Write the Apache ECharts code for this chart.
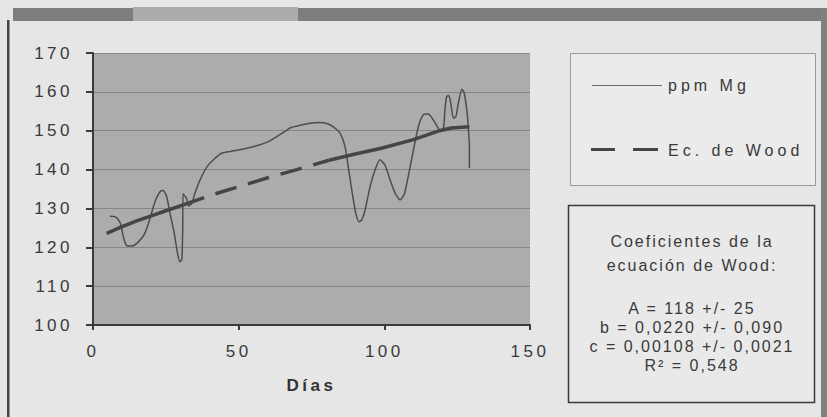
<!DOCTYPE html>
<html>
<head>
<meta charset="utf-8">
<script src="https://cdn.jsdelivr.net/npm/echarts@6/dist/echarts.min.js"></script>
<style>
  html, body { margin: 0; padding: 0; background: #e6e6e6; }
  #chart { width: 827px; height: 417px; }
  /* wide tracking of the printed figure */
  #chart text[style*="spcAxis"] { letter-spacing: 3.5px; }
  #chart text[style*="spcLeg"] { letter-spacing: 4px; }
  #chart text[style*="spcCoef"] { letter-spacing: 2px; }
</style>
</head>
<body>
<div id="chart"></div>
<script>
// Mg concentration (ppm) over lactation days
const ppmDays = [5.8, 7.5, 8.6, 9.6, 10.4, 11.6, 13.3, 15.6, 17.8, 19.6, 21.3, 23.0, 24.1, 25.3, 26.3, 27.9, 29.0, 29.8, 30.5, 30.8, 30.9, 32.1, 32.9, 33.9, 34.9, 36.7, 39.6, 43.6, 46.5, 50.4, 55.6, 60.2, 63.1, 65.9, 67.6, 71.1, 74.5, 77.9, 80.5, 82.5, 84.8, 86.5, 87.6, 89.0, 90.2, 91.3, 92.2, 93.4, 95.1, 96.8, 98.5, 100.2, 102.0, 103.7, 105.4, 106.8, 108.2, 110.0, 111.7, 113.4, 115.1, 116.8, 119.1, 120.3, 120.8, 121.4, 122.2, 122.8, 123.7, 124.6, 125.4, 126.6, 127.4, 128.3, 128.8, 129.2, 129.2];
const ppmVals = [128.0, 127.9, 127.2, 125.7, 122.7, 120.4, 120.3, 121.4, 123.6, 127.5, 131.8, 134.3, 134.6, 133.0, 129.2, 123.6, 118.5, 116.3, 116.9, 125.0, 133.8, 132.6, 130.6, 131.3, 133.7, 137.3, 141.2, 144.0, 144.6, 145.1, 146.0, 147.2, 148.5, 149.8, 150.7, 151.4, 151.9, 152.1, 151.8, 151.0, 149.4, 145.9, 140.8, 133.9, 128.8, 126.6, 127.0, 129.6, 135.6, 139.9, 142.5, 141.2, 137.3, 133.9, 132.2, 133.5, 138.2, 145.1, 151.1, 154.1, 154.3, 152.8, 150.2, 150.7, 155.4, 158.8, 159.0, 157.1, 153.2, 153.7, 157.1, 160.7, 159.7, 155.4, 151.1, 145.9, 140.4];

// Fitted Wood curve
const woodDays = [4.7, 10, 15, 20, 25, 31, 40, 50, 60, 70, 81, 90, 99, 110, 119, 123, 129.2];
const woodVals = [123.6, 125.3, 126.8, 128.1, 129.4, 130.9, 133.3, 135.6, 137.9, 140.0, 142.4, 144.0, 145.5, 147.7, 150.0, 150.7, 151.0];

const xTicks = { min: 0, max: 150, step: 50 };
const yTicks = { min: 100, max: 170, step: 10 };

const coefLines = [
  'Coeficientes de la',
  'ecuación de Wood:',
  'A = 118 +/- 25',
  'b = 0,0220 +/- 0,090',
  'c = 0,00108 +/- 0,0021',
  'R² = 0,548'
];
const coefY = [241, 265, 308, 327, 346, 365];

const axisFont = "'Liberation Sans', spcAxis";
const legFont = "16px 'Liberation Sans', spcLeg";
const coefFont = "16px 'Liberation Sans', spcCoef";
const ink = '#3a3a3a';

const ppmData = ppmDays.map((d, i) => [d, ppmVals[i]]);
const woodData = woodDays.map((d, i) => [d, woodVals[i]]);
const woodStyle = { color: '#454545', width: 3.5 };

const graphics = [
  // page frame
  { type: 'rect', shape: { x: 13, y: 8, width: 814, height: 13 }, style: { fill: '#7d7d7d' } },
  { type: 'rect', shape: { x: 133, y: 7, width: 165, height: 14 }, style: { fill: '#ababab' } },
  { type: 'rect', shape: { x: 7, y: 20, width: 2.5, height: 397 }, style: { fill: '#444' } },
  { type: 'rect', shape: { x: 821, y: 8, width: 6, height: 409 }, style: { fill: '#808080' } },
  // legend box
  { type: 'rect', shape: { x: 570.5, y: 53.5, width: 245, height: 132 }, style: { fill: '#ebebeb', stroke: '#9a9a9a', lineWidth: 1 } },
  { type: 'line', shape: { x1: 592, y1: 85.5, x2: 662, y2: 85.5 }, style: { stroke: '#6a6a6a', lineWidth: 1 } },
  { type: 'text', style: { x: 668, y: 85.5, text: 'ppm Mg', font: legFont, fill: ink, textAlign: 'left', verticalAlign: 'middle' } },
  { type: 'line', shape: { x1: 591, y1: 149.5, x2: 615, y2: 149.5 }, style: { stroke: '#454545', lineWidth: 3 } },
  { type: 'line', shape: { x1: 633, y1: 149.5, x2: 658, y2: 149.5 }, style: { stroke: '#454545', lineWidth: 3 } },
  { type: 'text', style: { x: 668, y: 150, text: 'Ec. de Wood', font: legFont, fill: ink, textAlign: 'left', verticalAlign: 'middle' } },
  // coefficients box
  { type: 'rect', shape: { x: 568.5, y: 205.5, width: 246, height: 197 }, style: { fill: '#e9e9e9', stroke: '#3a3a3a', lineWidth: 1.5 } }
];
coefLines.forEach((t, i) => {
  graphics.push({ type: 'text', style: { x: 692, y: coefY[i], text: t, font: coefFont, fill: ink, textAlign: 'center', verticalAlign: 'middle' } });
});

const chart = echarts.init(document.getElementById('chart'), null, { renderer: 'svg' });
chart.setOption({
  animation: false,
  backgroundColor: '#e6e6e6',
  grid: {
    left: 93, right: 297, top: 53, bottom: 92,
    show: true, backgroundColor: '#acacac', borderWidth: 0,
    containLabel: false, outerBoundsMode: 'none'
  },
  xAxis: {
    type: 'value', min: xTicks.min, max: xTicks.max, interval: xTicks.step,
    axisLine: { show: true, onZero: false, lineStyle: { color: ink, width: 2 } },
    axisTick: { show: true, length: 5, lineStyle: { color: ink, width: 2 } },
    splitLine: { show: false },
    axisLabel: { margin: 18, color: ink, fontSize: 17, fontFamily: axisFont },
    name: 'Días', nameLocation: 'middle', nameGap: 60,
    nameTextStyle: { fontSize: 17, fontWeight: 'bold', fontFamily: axisFont, color: '#333', verticalAlign: 'middle' }
  },
  yAxis: {
    type: 'value', min: yTicks.min, max: yTicks.max, interval: yTicks.step,
    axisLine: { show: true, lineStyle: { color: ink, width: 2 } },
    axisTick: { show: true, length: 7, lineStyle: { color: ink, width: 2 } },
    splitLine: { show: true, lineStyle: { color: '#868686', width: 1 } },
    axisLabel: { margin: 20, color: ink, fontSize: 17, fontFamily: axisFont }
  },
  series: [
    { type: 'line', name: 'ppm Mg', data: ppmData, showSymbol: false, smooth: 0.2, silent: true, z: 3,
      lineStyle: { color: '#4d4d4d', width: 1.5 } },
    { type: 'line', name: 'Ec. de Wood', data: woodData.slice(0, 6), showSymbol: false, silent: true, z: 4,
      lineStyle: Object.assign({ type: 'solid' }, woodStyle) },
    { type: 'line', name: 'Ec. de Wood', data: woodData.slice(5, 11), showSymbol: false, silent: true, z: 4,
      lineStyle: Object.assign({ type: [22, 12] }, woodStyle) },
    { type: 'line', name: 'Ec. de Wood', data: woodData.slice(10), showSymbol: false, silent: true, z: 4,
      lineStyle: Object.assign({ type: 'solid' }, woodStyle) }
  ],
  graphic: { elements: graphics }
});
</script>
</body>
</html>
